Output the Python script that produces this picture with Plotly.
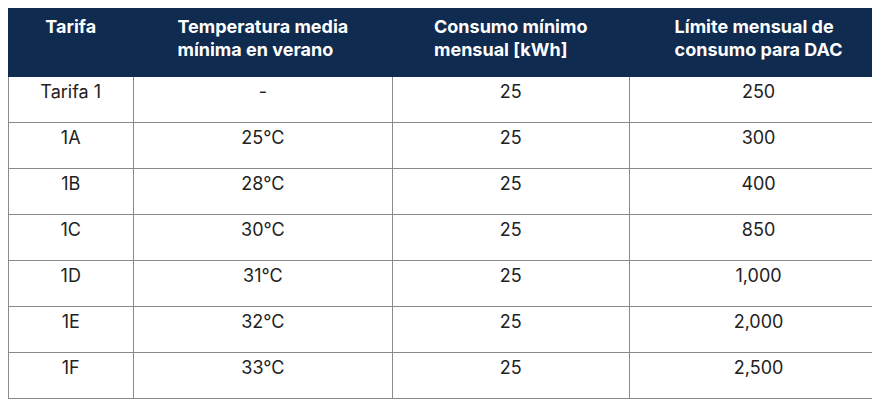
import plotly.graph_objects as go

headers = ["Tarifa", "Temperatura media<br>mínima en verano", "Consumo mínimo<br>mensual [kWh]", "Límite mensual de<br>consumo para DAC"]
tarifa = ["Tarifa 1", "1A", "1B", "1C", "1D", "1E", "1F"]
temperatura = ["-", "25°C", "28°C", "30°C", "31°C", "32°C", "33°C"]
consumo_minimo = ["25", "25", "25", "25", "25", "25", "25"]
limite_dac = ["250", "300", "400", "850", "1,000", "2,000", "2,500"]

fig = go.Figure(go.Table(
    columnwidth=[125, 258, 236, 258],
    header=dict(values=["<b>%s</b>" % h for h in headers],
                fill_color="#0f2b4f", line_color="#0f2b4f",
                font=dict(color="white", size=18, family="Inter"),
                align="center", height=68),
    cells=dict(values=[tarifa, temperatura, consumo_minimo, limite_dac],
               fill_color="white", line=dict(color="#8a8a8a", width=1),
               font=dict(color="#222222", size=18, family="Inter"),
               align="center", height=46),
))
fig.update_layout(width=880, height=400, margin=dict(l=0, r=0, t=0, b=0),
                  paper_bgcolor="white")
fig.write_html("out.html")
